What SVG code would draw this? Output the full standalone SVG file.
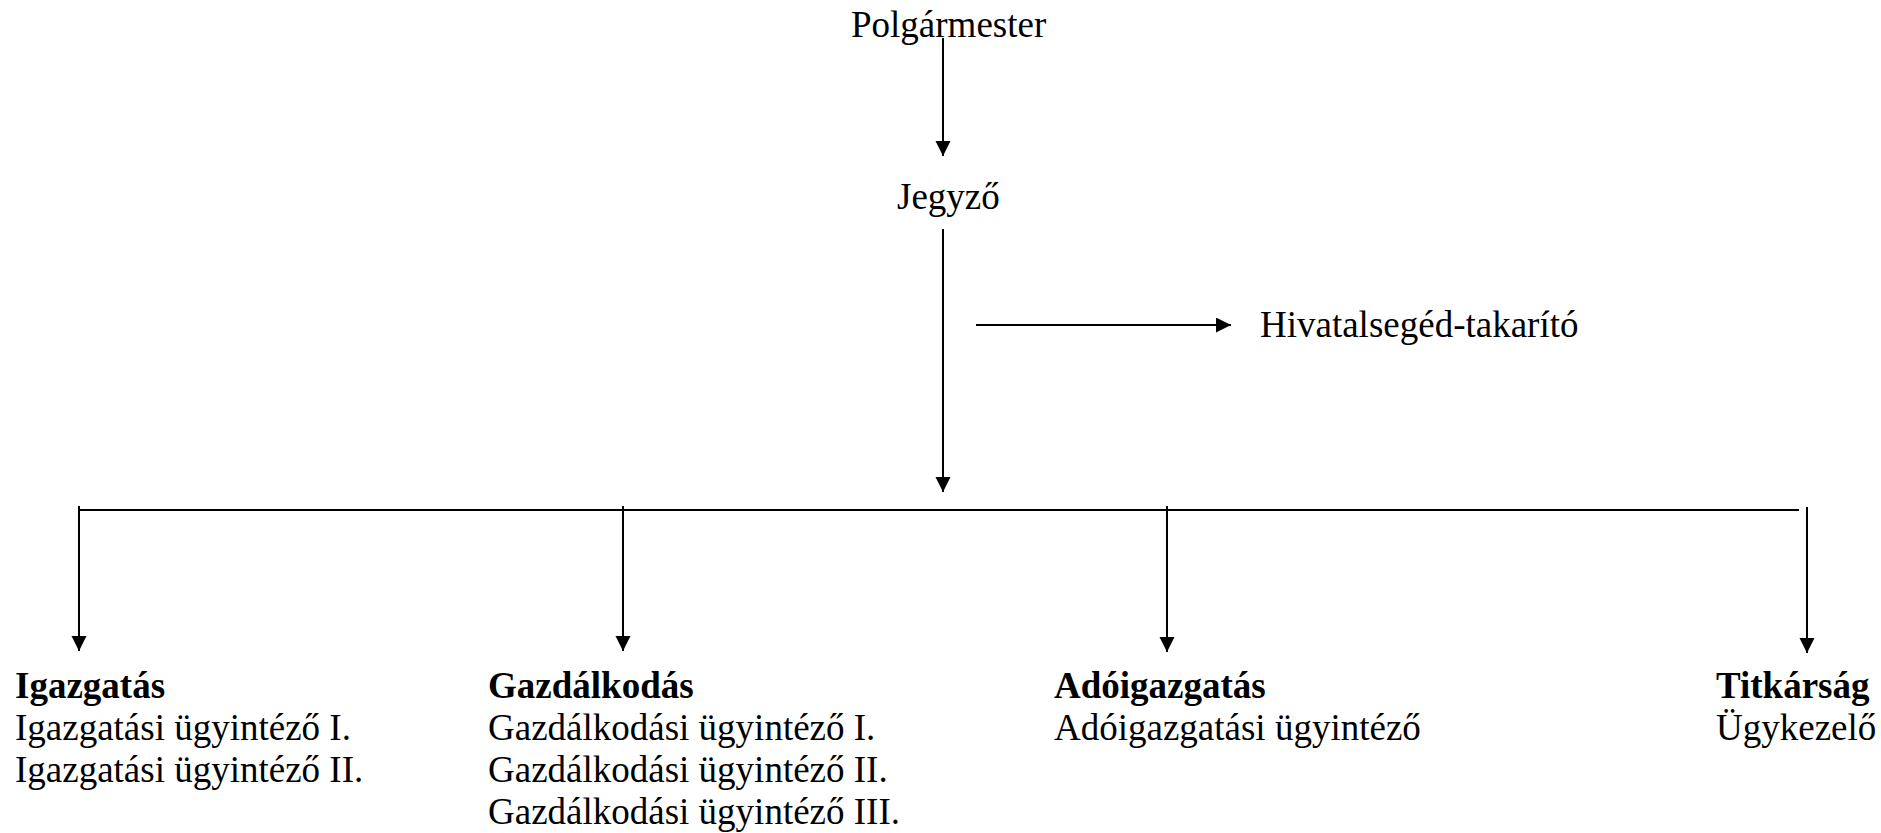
<svg xmlns="http://www.w3.org/2000/svg" width="1881" height="833" viewBox="0 0 1881 833">
<style>
text{font-family:"Liberation Serif","Times New Roman",serif;font-size:37px;fill:#000}
.b{font-weight:bold}
.c line{stroke:#000;stroke-width:2;fill:none}
.c .a{marker-end:url(#ah)}
</style>
<defs>
<marker id="ah" markerUnits="userSpaceOnUse" markerWidth="16" markerHeight="16" refX="15" refY="7.5" orient="auto">
<path d="M0,0 L15,7.5 L0,15 Z" fill="#000"/>
</marker>
</defs>
<rect width="1881" height="833" fill="#fff"/>
<g id="connectors" class="c">
<line class="a" x1="943" y1="38" x2="943" y2="156"/>
<line class="a" x1="943" y1="229" x2="943" y2="492"/>
<line class="a" x1="976" y1="325" x2="1231" y2="325"/>
<line x1="79" y1="510" x2="1799" y2="510"/>
<line class="a" x1="79" y1="506" x2="79" y2="651"/>
<line class="a" x1="623" y1="506" x2="623" y2="651"/>
<line class="a" x1="1167" y1="506" x2="1167" y2="652"/>
<line class="a" x1="1807" y1="507" x2="1807" y2="653"/>
</g>
<g id="polgarmester"><text x="851" y="37">Polgármester</text></g>
<g id="jegyzo"><text x="897" y="209">Jegyző</text></g>
<g id="hivatalsegéd"><text x="1260" y="337">Hivatalsegéd-takarító</text></g>
<g id="igazgatas">
<text class="b" x="15" y="698">Igazgatás</text>
<text x="15" y="740">Igazgatási ügyintéző I.</text>
<text x="15" y="782">Igazgatási ügyintéző II.</text>
</g>
<g id="gazdalkodas">
<text class="b" x="488" y="698">Gazdálkodás</text>
<text x="488" y="740">Gazdálkodási ügyintéző I.</text>
<text x="488" y="782">Gazdálkodási ügyintéző II.</text>
<text x="488" y="824">Gazdálkodási ügyintéző III.</text>
</g>
<g id="adoigazgatas">
<text class="b" x="1054" y="698">Adóigazgatás</text>
<text x="1054" y="740">Adóigazgatási ügyintéző</text>
</g>
<g id="titkarsag">
<text class="b" x="1716" y="698">Titkárság</text>
<text x="1716" y="740">Ügykezelő</text>
</g>
</svg>
